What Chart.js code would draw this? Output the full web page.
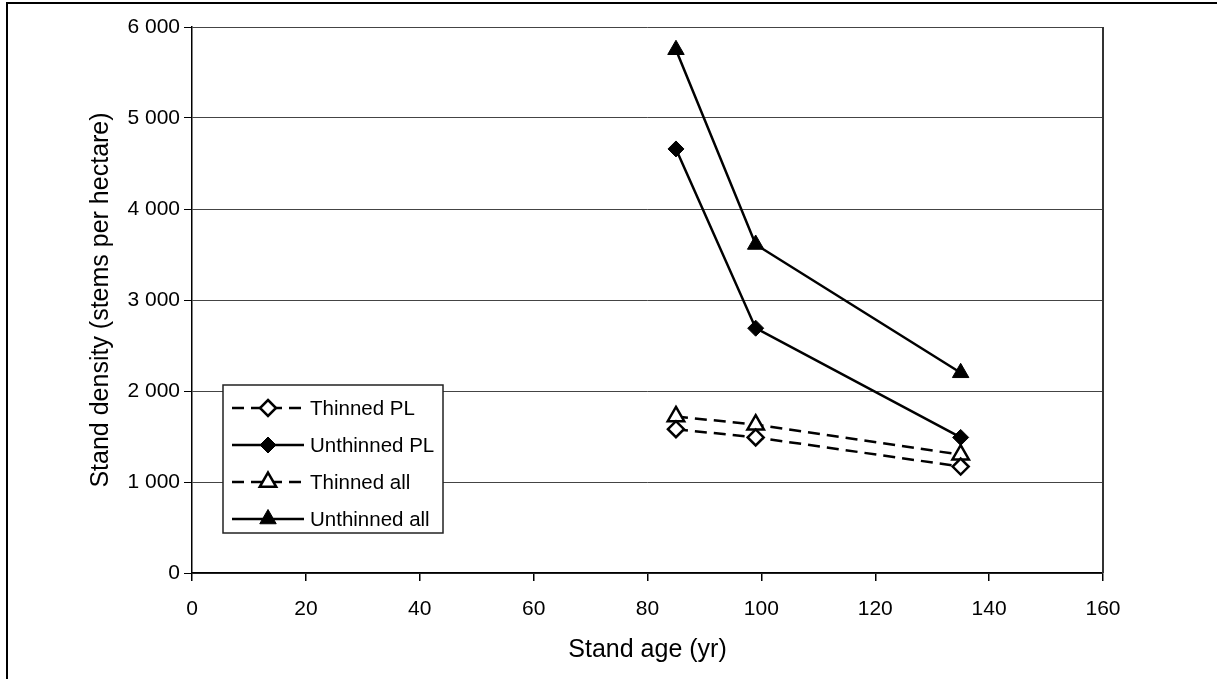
<!DOCTYPE html>
<html>
<head>
<meta charset="utf-8">
<script src="https://cdn.jsdelivr.net/npm/chart.js@4/dist/chart.umd.min.js"></script>
<style>
  html, body { margin: 0; padding: 0; background: #fff; overflow: hidden; }
  #frame {
    position: absolute; left: 6px; top: 2px; width: 3000px; height: 3000px;
    border: 2px solid #000;
  }
  #chart { position: absolute; left: 0; top: 0; }
</style>
</head>
<body>
<div id="frame"></div>
<canvas id="chart" width="1217" height="679"></canvas>
<script>
// stand age (yr)
const ages = [85, 99, 135];
// stand density (stems per hectare)
const thinnedPL = [1580, 1490, 1170];
const unthinnedPL = [4660, 2690, 1490];
const thinnedAll = [1720, 1630, 1300];
const unthinnedAll = [5750, 3610, 2200];
const seriesNames = ["Thinned PL", "Unthinned PL", "Thinned all", "Unthinned all"];

const FONT = "'Liberation Sans', Arial, sans-serif";

function toPoints(values) {
  return ages.map((a, i) => ({ x: a, y: values[i] }));
}

function withSpaces(v) {
  return String(v).replace(/\B(?=(\d{3})+(?!\d))/g, " ");
}

function series(label, values, dashed, style, filled) {
  return {
    label: label,
    data: toPoints(values),
    borderColor: "#000",
    borderWidth: 2.5,
    borderDash: dashed ? [12, 7] : [],
    pointStyle: style,
    pointRadius: style === "triangle" ? 9.5 : 8,
    pointBackgroundColor: filled ? "#000" : "#fff",
    pointBorderColor: "#000",
    pointBorderWidth: filled ? 1 : 2.5,
    fill: false,
    tension: 0,
  };
}

// draws a small marker for the legend
function marker(ctx, style, r, x, y, filled) {
  ctx.save();
  ctx.setLineDash([]);
  ctx.beginPath();
  if (style === "triangle") {
    for (let k = 0; k < 3; k++) {
      const a = k * 2 * Math.PI / 3;
      const px = x + Math.sin(a) * r, py = y - Math.cos(a) * r;
      k === 0 ? ctx.moveTo(px, py) : ctx.lineTo(px, py);
    }
  } else {
    ctx.moveTo(x, y - r);
    ctx.lineTo(x + r, y);
    ctx.lineTo(x, y + r);
    ctx.lineTo(x - r, y);
  }
  ctx.closePath();
  ctx.fillStyle = filled ? "#000" : "#fff";
  ctx.fill();
  ctx.lineWidth = filled ? 1 : 2.5;
  ctx.strokeStyle = "#000";
  ctx.stroke();
  ctx.restore();
}

const boxLegend = {
  id: "boxLegend",
  afterDatasetsDraw(chart) {
    const ctx = chart.ctx;
    const area = chart.chartArea;
    const left = area.left + 31, top = area.top + 358;
    const w = 220, h = 148;
    ctx.save();
    ctx.fillStyle = "#fff";
    ctx.fillRect(left, top, w, h);
    ctx.lineWidth = 1.5;
    ctx.strokeStyle = "#222";
    ctx.strokeRect(left, top, w, h);
    chart.data.datasets.forEach((ds, i) => {
      const y = top + 23 + i * 37;
      ctx.beginPath();
      ctx.setLineDash(ds.borderDash);
      ctx.lineWidth = ds.borderWidth;
      ctx.strokeStyle = "#000";
      ctx.moveTo(left + 9, y);
      ctx.lineTo(left + 81, y);
      ctx.stroke();
      marker(ctx, ds.pointStyle, ds.pointRadius, left + 45, y, ds.pointBackgroundColor === "#000");
      ctx.setLineDash([]);
      ctx.fillStyle = "#000";
      ctx.font = "20.5px " + FONT;
      ctx.textBaseline = "middle";
      ctx.textAlign = "left";
      ctx.fillText(ds.label, left + 87, y + 1);
    });
    ctx.restore();
  },
  beforeDatasetsDraw(chart) {
    // right edge of the plot area
    const ctx = chart.ctx;
    const area = chart.chartArea;
    ctx.save();
    ctx.strokeStyle = "#333";
    ctx.lineWidth = 2;
    ctx.beginPath();
    ctx.moveTo(area.right, area.top);
    ctx.lineTo(area.right, area.bottom);
    ctx.stroke();
    ctx.restore();
  },
};

new Chart(document.getElementById("chart"), {
  type: "line",
  data: {
    datasets: [
      series(seriesNames[0], thinnedPL, true, "rectRot", false),
      series(seriesNames[1], unthinnedPL, false, "rectRot", true),
      series(seriesNames[2], thinnedAll, true, "triangle", false),
      series(seriesNames[3], unthinnedAll, false, "triangle", true),
    ],
  },
  plugins: [boxLegend],
  options: {
    responsive: false,
    animation: false,
    devicePixelRatio: 1,
    layout: { padding: { left: 86, top: 27, right: 114, bottom: 0 } },
    plugins: {
      legend: { display: false },
      tooltip: { enabled: false },
    },
    scales: {
      x: {
        type: "linear",
        min: 0,
        max: 160,
        afterFit: (axis) => { axis.height = 106; },
        border: { color: "#000", width: 1.5 },
        grid: { drawOnChartArea: false, tickLength: 8, color: "#000", lineWidth: 1.5 },
        ticks: {
          stepSize: 20,
          padding: 16,
          color: "#000",
          font: { family: FONT, size: 21 },
          maxRotation: 0,
        },
        title: {
          display: true,
          text: "Stand age (yr)",
          color: "#000",
          font: { family: FONT, size: 25 },
          padding: { top: 0, bottom: 14 },
        },
      },
      y: {
        min: 0,
        max: 6000,
        afterFit: (axis) => { axis.width = 106; },
        border: { color: "#000", width: 1.5 },
        grid: { color: "#444", lineWidth: 1, tickLength: 8, tickColor: "#000" },
        ticks: {
          stepSize: 1000,
          padding: 4,
          color: "#000",
          font: { family: FONT, size: 21 },
          callback: (v) => withSpaces(v),
        },
        title: {
          display: true,
          text: "Stand density (stems per hectare)",
          color: "#000",
          font: { family: FONT, size: 25 },
          padding: { top: 0, bottom: 0 },
        },
      },
    },
  },
});
</script>
</body>
</html>
